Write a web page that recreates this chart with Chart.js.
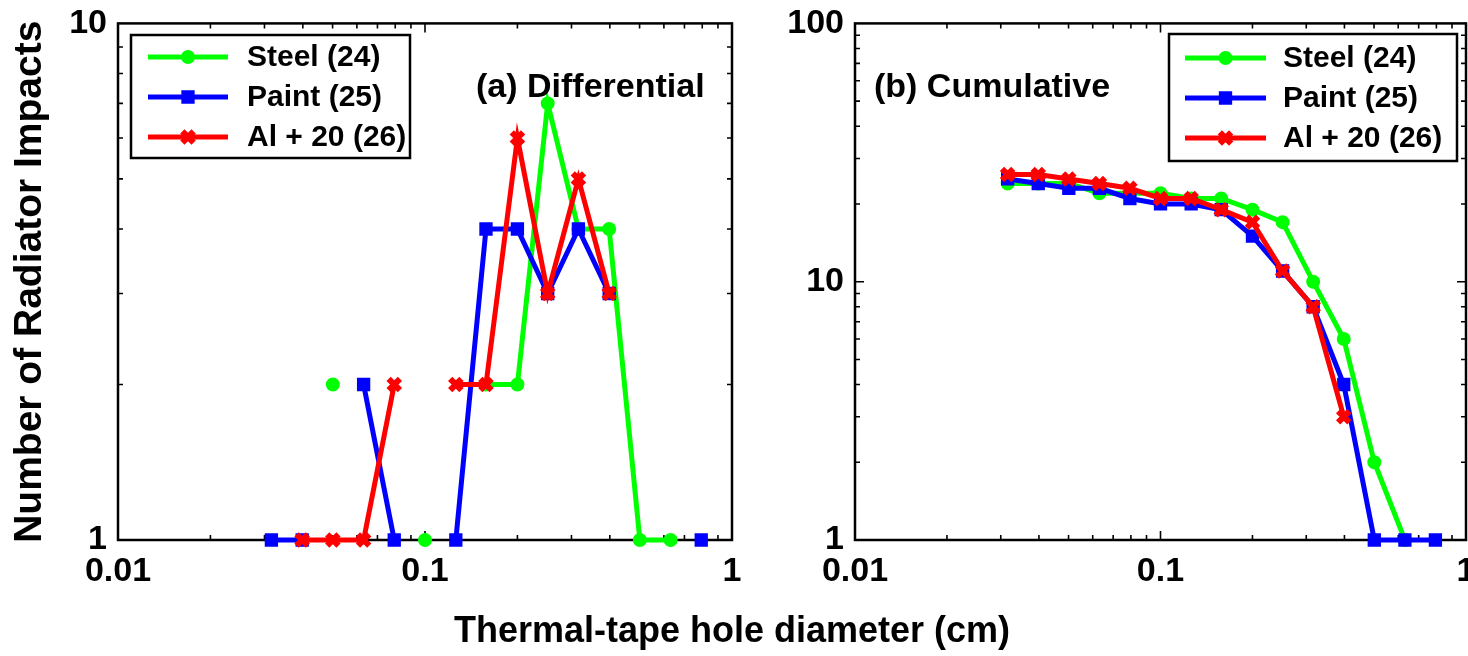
<!DOCTYPE html>
<html>
<head>
<meta charset="utf-8">
<script src="https://cdn.jsdelivr.net/npm/chart.js@4"></script>
<style>
    html, body { margin: 0; padding: 0; background: #fff; overflow: hidden; }
    #wrap { position: relative; width: 1468px; height: 656px; overflow: hidden; }
    #leftCanvas { position: absolute; left: 0; top: 0; }
    #rightCanvas { position: absolute; left: 760px; top: 0; }
    #xTitle {
        position: absolute; left: 0; top: 608px; width: 1464px; text-align: center;
        font: bold 36px "Liberation Sans", Arial, sans-serif; line-height: 44px; color: #000;
    }
</style>
</head>
<body>
<div id="wrap">
    <canvas id="leftCanvas" width="760" height="656"></canvas>
    <canvas id="rightCanvas" width="720" height="656"></canvas>
    <div id="xTitle">Thermal-tape hole diameter (cm)</div>
</div>
<script>
// hole-diameter bins (cm)
const diameters = [0.0316, 0.0398, 0.0501, 0.0631, 0.0794, 0.1, 0.126, 0.158, 0.2, 0.251, 0.316, 0.398, 0.501, 0.631, 0.794];
const seriesNames = ['Steel (24)', 'Paint (25)', 'Al + 20 (26)'];

// (a) differential counts per bin, null = no impacts in that bin
const steelDiff = [null, null, 2, null, null, 1, null, 2, 2, 7, 4, 4, 1, 1, null];
const paintDiff = [1, 1, null, 2, 1, null, 1, 4, 4, 3, 4, 3, null, null, 1];
const alDiff = [null, 1, 1, 1, 2, null, 2, 2, 6, 3, 5, 3, null, null, null];

// (b) cumulative counts
const steelCum = [24, 24, 24, 22, 22, 22, 21, 21, 19, 17, 10, 6, 2, 1, null];
const paintCum = [25, 24, 23, 23, 21, 20, 20, 19, 15, 11, 8, 4, 1, 1, 1];
const alCum = [26, 26, 25, 24, 23, 21, 21, 19, 17, 11, 8, 3, null, null, null];

const xTickValues = [0.01, 0.1, 1];
const xTickLabels = ['0.01', '0.1', '1'];
const yTickValuesA = [1, 10];
const yTickLabelsA = ['1', '10'];
const yTickValuesB = [1, 10, 100];
const yTickLabelsB = ['1', '10', '100'];

const colors = ['#00ff00', '#0000ff', '#ff0000'];
const markers = ['circle', 'rect', 'crossRot'];
const markerRadius = [6, 8, 8];
const markerBorder = [2, 2, 6];

const FONT = '"Liberation Sans", Arial, sans-serif';

function makeDatasets(values) {
    return seriesNames.map((name, i) => ({
        label: name,
        data: diameters.map((d, j) => ({ x: d, y: values[i][j] })),
        borderColor: colors[i],
        backgroundColor: colors[i],
        pointBackgroundColor: colors[i],
        pointBorderColor: colors[i],
        pointStyle: markers[i],
        pointRadius: markerRadius[i],
        pointBorderWidth: markerBorder[i],
        borderWidth: 5,
        tension: 0,
        spanGaps: false,
        clip: false,
        order: 3 - i
    }));
}

// box around the plot with small inward log ticks on all four sides
const frameTicks = {
    id: 'frameTicks',
    beforeDatasetsDraw(chart) {
        const { ctx, chartArea: a } = chart;
        const xs = chart.scales.x, ys = chart.scales.y;
        ctx.save();
        ctx.strokeStyle = '#000';
        ctx.lineWidth = 2.5;
        ctx.strokeRect(a.left, a.top, a.right - a.left, a.bottom - a.top);
        ctx.lineWidth = 1.6;
        ctx.beginPath();
        const logTicks = (min, max, fn) => {
            for (let d = min; d < max * 0.999; d *= 10) {
                for (let m = 1; m < 10; m++) fn(d * m, m === 1);
            }
        };
        logTicks(xs.min, xs.max, (v, major) => {
            const px = xs.getPixelForValue(v);
            const len = major ? 9 : 5;
            ctx.moveTo(px, a.bottom); ctx.lineTo(px, a.bottom - len);
            ctx.moveTo(px, a.top); ctx.lineTo(px, a.top + len);
        });
        logTicks(ys.min, ys.max, (v, major) => {
            const py = ys.getPixelForValue(v);
            const len = major ? 9 : 5;
            ctx.moveTo(a.left, py); ctx.lineTo(a.left + len, py);
            ctx.moveTo(a.right, py); ctx.lineTo(a.right - len, py);
        });
        ctx.stroke();
        ctx.restore();
    }
};

// legend box with line + marker samples, and the panel label
const panelDecor = {
    id: 'panelDecor',
    afterDraw(chart, args, opts) {
        const ctx = chart.ctx;
        const lg = opts.legend;
        ctx.save();
        ctx.fillStyle = '#fff';
        ctx.fillRect(lg.x, lg.y, lg.w, lg.h);
        ctx.strokeStyle = '#000';
        ctx.lineWidth = 2.5;
        ctx.strokeRect(lg.x, lg.y, lg.w, lg.h);
        ctx.font = 'bold 30px ' + FONT;
        ctx.textBaseline = 'middle';
        chart.data.datasets.forEach((ds, i) => {
            const cy = lg.y + lg.rowTop + i * lg.rowGap;
            const x1 = lg.x + lg.lineStart, x2 = x1 + lg.lineLen;
            ctx.strokeStyle = ds.borderColor;
            ctx.lineWidth = 5;
            ctx.beginPath();
            ctx.moveTo(x1, cy); ctx.lineTo(x2, cy);
            ctx.stroke();
            ctx.fillStyle = ds.pointBackgroundColor;
            ctx.lineWidth = ds.pointBorderWidth;
            Chart.helpers.drawPoint(ctx, {
                pointStyle: ds.pointStyle, rotation: 0,
                radius: ds.pointRadius, borderWidth: ds.pointBorderWidth
            }, (x1 + x2) / 2, cy);
            ctx.fillStyle = '#000';
            ctx.fillText(ds.label, lg.x + lg.textStart, cy + 1);
        });
        ctx.font = 'bold 34px ' + FONT;
        ctx.fillStyle = '#000';
        ctx.fillText(opts.label.text, opts.label.x, opts.label.y);
        ctx.restore();
    }
};

function buildOptions(cfg) {
    return {
        responsive: false,
        animation: false,
        events: [],
        layout: { padding: { left: 0, top: 22, right: cfg.padRight, bottom: 0 } },
        plugins: {
            legend: { display: false },
            tooltip: { enabled: false },
            panelDecor: { legend: cfg.legend, label: cfg.label }
        },
        scales: {
            x: {
                type: 'logarithmic', min: 0.01, max: 1, position: 'bottom',
                grid: { display: false }, border: { display: false },
                ticks: {
                    color: '#000', font: { family: FONT, size: 34, weight: 'bold' }, padding: 3,
                    autoSkip: false, maxRotation: 0,
                    callback: (v, i) => xTickLabels[i]
                },
                afterBuildTicks: s => { s.ticks = xTickValues.map(v => ({ value: v })); },
                afterFit: s => { s.height = 116; }
            },
            y: {
                type: 'logarithmic', min: cfg.yTicks[0], max: cfg.yTicks[cfg.yTicks.length - 1],
                grid: { display: false }, border: { display: false },
                ticks: {
                    color: '#000', font: { family: FONT, size: 34, weight: 'bold' }, padding: 3,
                    autoSkip: false,
                    callback: (v, i) => cfg.yLabels[i]
                },
                title: cfg.yTitle ? {
                    display: true, text: cfg.yTitle, color: '#000',
                    font: { family: FONT, size: 39, weight: 'bold' }, padding: { top: 7, bottom: 0 }
                } : { display: false },
                afterBuildTicks: s => { s.ticks = cfg.yTicks.map(v => ({ value: v })); },
                afterFit: s => { s.width = cfg.yWidth; }
            }
        }
    };
}

new Chart(document.getElementById('leftCanvas'), {
    type: 'line',
    data: { datasets: makeDatasets([steelDiff, paintDiff, alDiff]) },
    options: buildOptions({
        padRight: 28, yWidth: 118,
        yTicks: yTickValuesA, yLabels: yTickLabelsA,
        yTitle: 'Number of Radiator Impacts',
        legend: { x: 131, y: 35, w: 279, h: 123, rowTop: 22, rowGap: 40, lineStart: 17, lineLen: 80, textStart: 116 },
        label: { text: '(a) Differential', x: 476, y: 88 }
    }),
    plugins: [frameTicks, panelDecor]
});

new Chart(document.getElementById('rightCanvas'), {
    type: 'line',
    data: { datasets: makeDatasets([steelCum, paintCum, alCum]) },
    options: buildOptions({
        padRight: 10, yWidth: 95,
        yTicks: yTickValuesB, yLabels: yTickLabelsB,
        yTitle: null,
        legend: { x: 409, y: 34, w: 288, h: 127, rowTop: 24, rowGap: 40, lineStart: 16, lineLen: 81, textStart: 114 },
        label: { text: '(b) Cumulative', x: 114, y: 88 }
    }),
    plugins: [frameTicks, panelDecor]
});
</script>
</body>
</html>
